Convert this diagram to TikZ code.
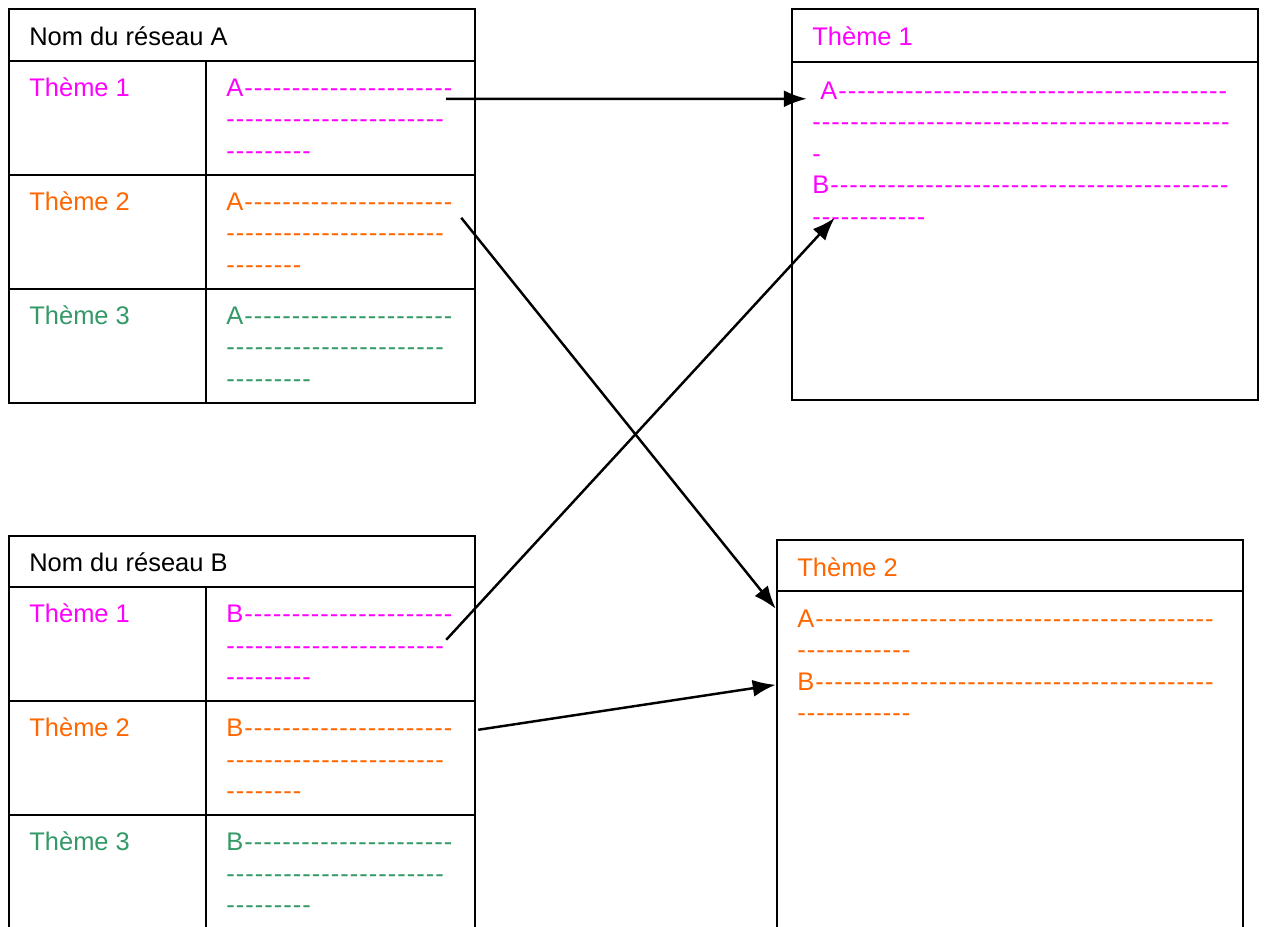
\documentclass[tikz,border=0pt]{standalone}
\usepackage{fontspec}
\setmainfont{Liberation Sans}
\newfontfamily\tirets{Liberation Sans}[LetterSpace=4, Ligatures=TeXOff]
\usetikzlibrary{arrows.meta}
\definecolor{themeun}{HTML}{FF00FF}
\definecolor{themedeux}{HTML}{FF6600}
\definecolor{themetrois}{HTML}{339966}
\tikzset{
	cadre/.style={shape=rectangle, draw, line width=1.4pt, inner sep=0pt},
	titre/.style={anchor=base west, inner sep=0pt, font=\fontsize{14.5}{18}\selectfont},
	% #1 = lignes sous la premiere (le base anchor tombe sur la derniere ligne)
	contenu/.style={anchor=base west, inner sep=0pt, align=left, font=\tirets\fontsize{14.5}{18}\selectfont, yshift=-#1*18pt},
	fleche/.style={-{Latex[length=0.46cm, width=0.34cm]}, line width=1.4pt}
}
\begin{document}
\begin{tikzpicture}
	\useasboundingbox (0,0) rectangle (25.34,-18.52);
	\clip (0,0) rectangle (25.34,-18.52);
	% Paths, nodes and wires:
	% reseau A
	\node[cadre, minimum width=9.32cm, minimum height=1.04cm] (nomA) at (4.84, -0.70){};
	\node[cadre, minimum width=3.94cm, minimum height=2.28cm] (tA1) at (2.15, -2.36){};
	\node[cadre, minimum width=5.38cm, minimum height=2.28cm] (cA1) at (6.81, -2.36){};
	\node[cadre, minimum width=3.94cm, minimum height=2.28cm] (tA2) at (2.15, -4.64){};
	\node[cadre, minimum width=5.38cm, minimum height=2.28cm] (cA2) at (6.81, -4.64){};
	\node[cadre, minimum width=3.94cm, minimum height=2.28cm] (tA3) at (2.15, -6.92){};
	\node[cadre, minimum width=5.38cm, minimum height=2.28cm] (cA3) at (6.81, -6.92){};
	\node[titre] (txtNomA) at (0.58, -0.90){Nom du réseau A};
	\node[titre, text=themeun] (txtA1) at (0.58, -1.92){Thème 1};
	\node[titre, text=themedeux] (txtA2) at (0.58, -4.20){Thème 2};
	\node[titre, text=themetrois] (txtA3) at (0.58, -6.48){Thème 3};
	\node[contenu=2, text=themeun] (lstA1) at (4.52, -1.92){A----------------------\\-----------------------\\---------};
	\node[contenu=2, text=themedeux] (lstA2) at (4.52, -4.20){A----------------------\\-----------------------\\--------};
	\node[contenu=2, text=themetrois] (lstA3) at (4.52, -6.48){A----------------------\\-----------------------\\---------};
	% reseau B
	\node[cadre, minimum width=9.32cm, minimum height=1.02cm] (nomB) at (4.84, -11.23){};
	\node[cadre, minimum width=3.94cm, minimum height=2.28cm] (tB1) at (2.15, -12.88){};
	\node[cadre, minimum width=5.38cm, minimum height=2.28cm] (cB1) at (6.81, -12.88){};
	\node[cadre, minimum width=3.94cm, minimum height=2.28cm] (tB2) at (2.15, -15.16){};
	\node[cadre, minimum width=5.38cm, minimum height=2.28cm] (cB2) at (6.81, -15.16){};
	\node[cadre, minimum width=3.94cm, minimum height=2.28cm] (tB3) at (2.15, -17.44){};
	\node[cadre, minimum width=5.38cm, minimum height=2.28cm] (cB3) at (6.81, -17.44){};
	\node[titre] (txtNomB) at (0.58, -11.43){Nom du réseau B};
	\node[titre, text=themeun] (txtB1) at (0.58, -12.45){Thème 1};
	\node[titre, text=themedeux] (txtB2) at (0.58, -14.73){Thème 2};
	\node[titre, text=themetrois] (txtB3) at (0.58, -17.01){Thème 3};
	\node[contenu=2, text=themeun] (lstB1) at (4.52, -12.45){B----------------------\\-----------------------\\---------};
	\node[contenu=2, text=themedeux] (lstB2) at (4.52, -14.73){B----------------------\\-----------------------\\--------};
	\node[contenu=2, text=themetrois] (lstB3) at (4.52, -17.01){B----------------------\\-----------------------\\---------};
	% regroupement par theme
	\node[cadre, minimum width=9.32cm, minimum height=1.06cm] (enteteT1) at (20.50, -0.71){};
	\node[cadre, minimum width=9.32cm, minimum height=6.76cm] (corpsT1) at (20.50, -4.62){};
	\node[titre, text=themeun] (txtT1) at (16.24, -0.90){Thème 1};
	\node[contenu=4, text=themeun] (lstT1) at (16.24, -1.98){\ A-----------------------------------------\\--------------------------------------------\\-\\B------------------------------------------\\------------};
	\node[cadre, minimum width=9.32cm, minimum height=1.02cm] (enteteT2) at (20.20, -11.31){};
	\node[cadre, minimum width=9.32cm, minimum height=7.38cm] (corpsT2) at (20.20, -15.51){};
	\node[titre, text=themedeux] (txtT2) at (15.94, -11.52){Thème 2};
	\node[contenu=3, text=themedeux] (lstT2) at (15.94, -12.54){A------------------------------------------\\------------\\B------------------------------------------\\------------};
	% liens
	\draw[fleche] ([xshift=-0.6cm, yshift=-0.78cm]cA1.north east) -- ([xshift=0.32cm, yshift=-0.76cm]corpsT1.north west);
	\draw[fleche] ([xshift=-0.3cm, yshift=-0.88cm]cA2.north east) -- ([yshift=-0.38cm]corpsT2.north west);
	\draw[fleche] ([xshift=-0.6cm, yshift=-1.08cm]cB1.north east) -- ([xshift=0.88cm, yshift=-3.14cm]corpsT1.north west);
	\draw[fleche] ([xshift=0.04cm, yshift=-0.6cm]cB2.north east) -- ([yshift=-1.9cm]corpsT2.north west);
\end{tikzpicture}
\end{document}
